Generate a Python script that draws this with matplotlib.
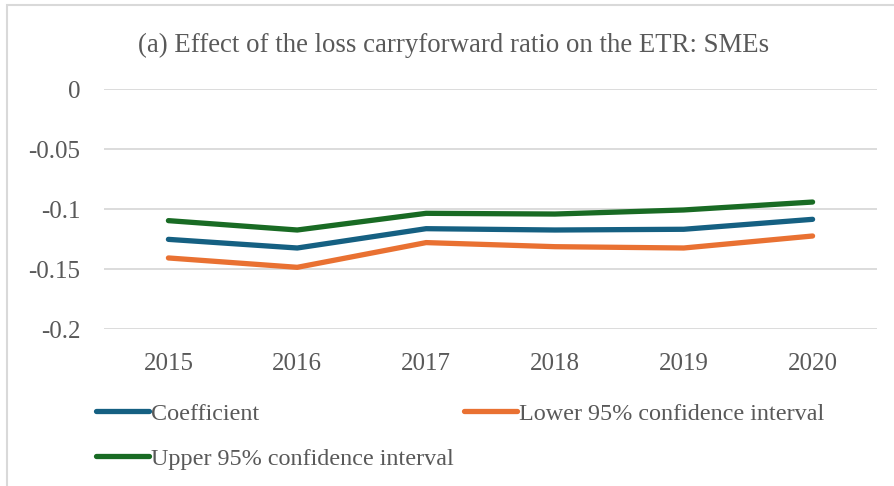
import matplotlib
matplotlib.use('Agg')
from matplotlib import pyplot as plt
from matplotlib.patches import Rectangle

plt.rcParams['font.family'] = ['Liberation Serif', 'DejaVu Serif']

years = ['2015', '2016', '2017', '2018', '2019', '2020']
coefficient = [-0.1253, -0.1325, -0.1164, -0.1175, -0.1169, -0.1086]
lower_ci = [-0.1408, -0.1486, -0.1280, -0.1314, -0.1325, -0.1225]
upper_ci = [-0.1097, -0.1175, -0.1036, -0.1042, -0.1008, -0.0942]
y_ticks = [0, -0.05, -0.1, -0.15, -0.2]
y_tick_labels = ['0', '-0.05', '-0.1', '-0.15', '-0.2']

text_col = '#595959'
grid_col = '#d9d9d9'

fig = plt.figure(figsize=(8.94, 4.86), dpi=100)
ax = fig.add_axes([104 / 894, 157 / 486, 773 / 894, 240 / 486])

x = list(range(len(years)))
l1, = ax.plot(x, coefficient, color='#156082', lw=3.8, solid_capstyle='round', label='Coefficient')
l2, = ax.plot(x, lower_ci, color='#E97132', lw=3.8, solid_capstyle='round',
              label='Lower 95% confidence interval')
l3, = ax.plot(x, upper_ci, color='#196B24', lw=3.8, solid_capstyle='round',
              label='Upper 95% confidence interval')

ax.set_xlim(-0.5, len(years) - 0.5)
ax.set_ylim(-0.2, 0)
ax.set_yticks(y_ticks)
ax.set_yticklabels(y_tick_labels)
ax.set_xticks(x)
ax.set_xticklabels(years)
ax.tick_params(length=0, labelsize=18, colors=text_col)
ax.tick_params(axis='y', pad=17)
ax.tick_params(axis='x', pad=17)
for s in ax.spines.values():
    s.set_visible(False)
ax.yaxis.grid(True, color=grid_col, lw=1.3)
ax.set_axisbelow(True)

fig.text(454 / 894, 1 - 45 / 486, '(a) Effect of the loss carryforward ratio on the ETR: SMEs',
         ha='center', va='center', fontsize=19.3, color=text_col)

fig.legend([l1, l3, l2], [l1.get_label(), l3.get_label(), l2.get_label()],
           ncol=2, loc='upper left', bbox_to_anchor=(96 / 894, 1 - 403 / 486),
           frameon=False, fontsize=17.4, labelcolor=text_col, handlelength=2.2,
           handletextpad=0.08, columnspacing=0.4, labelspacing=0.95, borderaxespad=0,
           borderpad=0)

# chart frame
fig.patches.append(Rectangle((7 / 894, -0.1), 1.2, 1 - 5 / 486 + 0.1, transform=fig.transFigure,
                             fill=False, ec=grid_col, lw=1.5))

fig.savefig('out.png', dpi=100)
